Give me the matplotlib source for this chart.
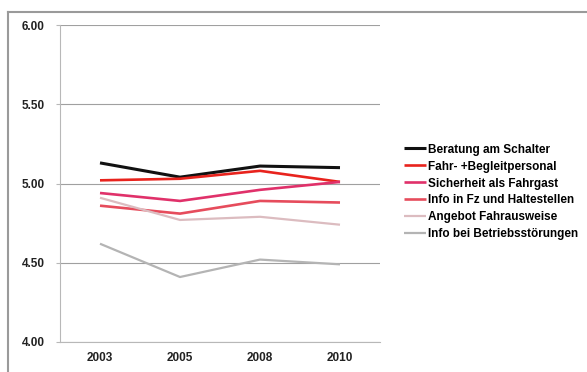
import matplotlib.pyplot as plt

plt.rcParams['font.family'] = ['Liberation Sans', 'DejaVu Sans']

# Survey years and average satisfaction scores per topic
years = ['2003', '2005', '2008', '2010']
beratung = [5.13, 5.04, 5.11, 5.10]
begleitpersonal = [5.02, 5.03, 5.08, 5.01]
sicherheit = [4.94, 4.89, 4.96, 5.01]
info_fz = [4.86, 4.81, 4.89, 4.88]
fahrausweise = [4.91, 4.77, 4.79, 4.74]
betriebsstoerungen = [4.62, 4.41, 4.52, 4.49]

series = [
    ('Beratung am Schalter', beratung, '#111111', 2.2),
    ('Fahr- +Begleitpersonal', begleitpersonal, '#e8231d', 1.9),
    ('Sicherheit als Fahrgast', sicherheit, '#e0316a', 1.9),
    ('Info in Fz und Haltestellen', info_fz, '#e64c5c', 1.9),
    ('Angebot Fahrausweise', fahrausweise, '#dcbcc0', 1.6),
    ('Info bei Betriebsstörungen', betriebsstoerungen, '#b4b4b4', 1.6),
]

fig = plt.figure(figsize=(5.87, 3.72), dpi=100)
ax = fig.add_axes([60 / 587, 30 / 372, 320 / 587, 317 / 372])

x = range(len(years))
for label, values, color, lw in series:
    ax.plot(x, values, color=color, linewidth=lw, label=label,
            solid_capstyle='butt', zorder=3)

ax.set_xlim(-0.5, 3.5)
ax.set_ylim(4.0, 6.0)
ax.set_yticks([4.0, 4.5, 5.0, 5.5, 6.0])
ax.set_yticklabels(['4.00', '4.50', '5.00', '5.50', '6.00'])
ax.set_xticks(list(x))
ax.set_xticklabels(years)
ax.grid(axis='y', color='#a0a0a0', linewidth=0.8)
ax.set_axisbelow(True)

for side in ['top', 'right']:
    ax.spines[side].set_visible(False)
ax.spines['left'].set_color('#b8b8b8')
ax.spines['bottom'].set_color('#b8b8b8')
ax.tick_params(axis='y', length=3, color='#b8b8b8', pad=8, labelsize=8.5)
ax.tick_params(axis='x', length=0, pad=7, labelsize=8.5)
for t in ax.get_xticklabels() + ax.get_yticklabels():
    t.set_fontweight('bold')
    t.set_color('#222222')

fig.legend(loc='center left', bbox_to_anchor=(398 / 587, 1 - 192 / 372),
           frameon=False, prop={'weight': 'bold', 'size': 8.5},
           handlelength=1.9, handletextpad=0.15, labelspacing=0.42,
           borderpad=0)

# Thin grey frame along the top and left edge
fig.add_artist(plt.Line2D([8 / 587, 1], [1 - 12 / 372, 1 - 12 / 372],
                          transform=fig.transFigure, color='#9a9a9a', lw=1.5))
fig.add_artist(plt.Line2D([8 / 587, 8 / 587], [0, 1 - 12 / 372],
                          transform=fig.transFigure, color='#9a9a9a', lw=1.5))

fig.savefig('out.png', dpi=100)
